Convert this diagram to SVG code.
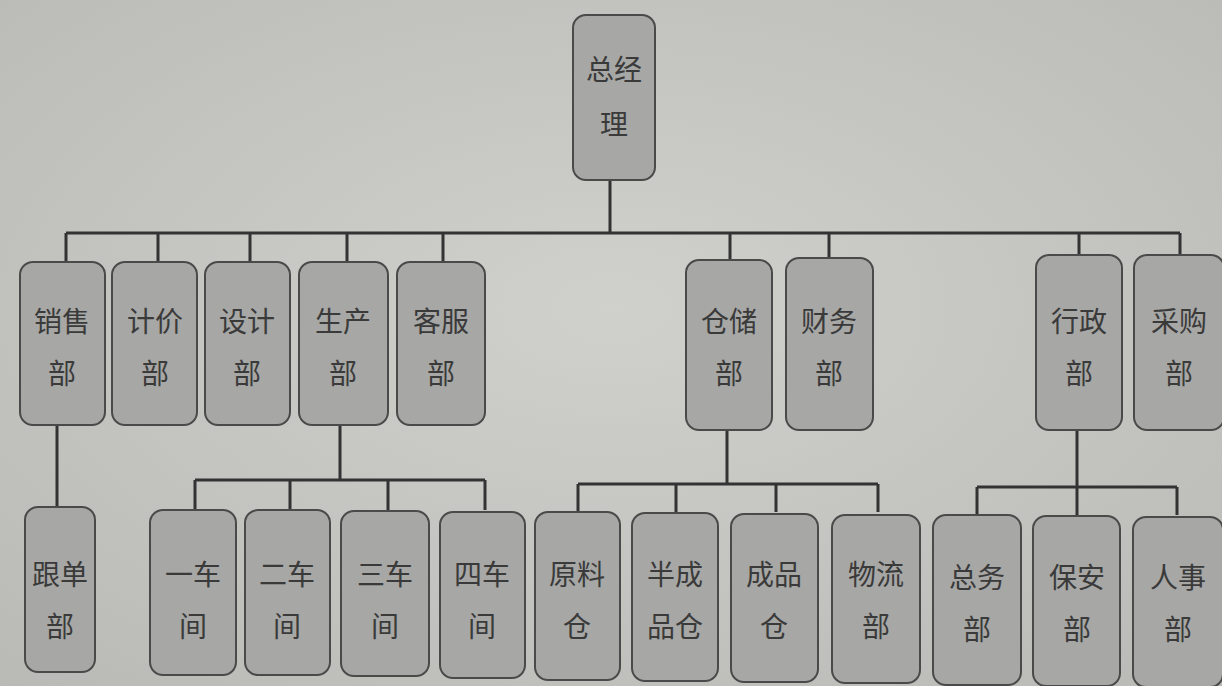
<svg xmlns="http://www.w3.org/2000/svg" width="1222" height="686" viewBox="0 0 1222 686">
<defs>
<radialGradient id="bg" cx="0.5" cy="0.45" r="0.75">
<stop offset="0" stop-color="#d0d0cc"/>
<stop offset="1" stop-color="#b9b9b5"/>
</radialGradient>
<style>
.box{fill:#a7a7a5;stroke:#4a4a4a;stroke-width:2}
.t{font-family:"Noto Sans CJK SC","Noto Sans CJK JP",sans-serif;font-size:28px;fill:#3a3a3a;text-anchor:middle}
.c{fill:none;stroke:#333;stroke-width:3}
</style>
</defs>
<rect width="1222" height="686" fill="url(#bg)"/>
<g id="connectors">
<path class="c" d="M610 180V233M66 233H1180M66 233V262M158 233V262M250 233V262M347 233V262M443 233V262M730 233V260M829 233V258M1079 233V255M1180 233V255"/>
<path class="c" d="M57 425V507"/>
<path class="c" d="M340 425V480M195 480H485M195 480V510M290 480V510M388 480V510M485 480V510"/>
<path class="c" d="M727 430V484M578 484H878M578 484V512M676 484V512M776 484V512M878 484V512"/>
<path class="c" d="M1077 430V515M977 487H1177M977 487V515M1177 487V515"/>
</g>
<g id="n-zongjingli"><rect class="box" x="573" y="15" width="82" height="165" rx="13"/><text class="t" x="614" y="80">总经</text><text class="t" x="614" y="135">理</text></g>
<g id="n-xiaoshou"><rect class="box" x="20" y="262" width="85" height="163" rx="13"/><text class="t" x="62" y="332">销售</text><text class="t" x="62" y="384">部</text></g>
<g id="n-jijia"><rect class="box" x="112" y="262" width="85" height="163" rx="13"/><text class="t" x="155" y="332">计价</text><text class="t" x="155" y="384">部</text></g>
<g id="n-sheji"><rect class="box" x="205" y="262" width="85" height="163" rx="13"/><text class="t" x="247" y="332">设计</text><text class="t" x="247" y="384">部</text></g>
<g id="n-shengchan"><rect class="box" x="299" y="262" width="89" height="163" rx="13"/><text class="t" x="343" y="332">生产</text><text class="t" x="343" y="384">部</text></g>
<g id="n-kefu"><rect class="box" x="397" y="262" width="88" height="163" rx="13"/><text class="t" x="441" y="332">客服</text><text class="t" x="441" y="384">部</text></g>
<g id="n-cangchu"><rect class="box" x="686" y="260" width="86" height="170" rx="13"/><text class="t" x="729" y="332">仓储</text><text class="t" x="729" y="384">部</text></g>
<g id="n-caiwu"><rect class="box" x="786" y="258" width="87" height="172" rx="13"/><text class="t" x="829" y="332">财务</text><text class="t" x="829" y="384">部</text></g>
<g id="n-xingzheng"><rect class="box" x="1036" y="255" width="86" height="175" rx="13"/><text class="t" x="1079" y="332">行政</text><text class="t" x="1079" y="384">部</text></g>
<g id="n-caigou"><rect class="box" x="1134" y="255" width="90" height="175" rx="13"/><text class="t" x="1179" y="332">采购</text><text class="t" x="1179" y="384">部</text></g>
<g id="n-gendan"><rect class="box" x="25" y="507" width="70" height="165" rx="13"/><text class="t" x="60" y="585">跟单</text><text class="t" x="60" y="637">部</text></g>
<g id="n-che1"><rect class="box" x="150" y="510" width="86" height="165" rx="13"/><text class="t" x="193" y="585">一车</text><text class="t" x="193" y="637">间</text></g>
<g id="n-che2"><rect class="box" x="245" y="510" width="85" height="165" rx="13"/><text class="t" x="287" y="585">二车</text><text class="t" x="287" y="637">间</text></g>
<g id="n-che3"><rect class="box" x="341" y="511" width="88" height="165" rx="13"/><text class="t" x="385" y="585">三车</text><text class="t" x="385" y="637">间</text></g>
<g id="n-che4"><rect class="box" x="440" y="512" width="85" height="166" rx="13"/><text class="t" x="482" y="585">四车</text><text class="t" x="482" y="637">间</text></g>
<g id="n-yuanliao"><rect class="box" x="535" y="512" width="85" height="168" rx="13"/><text class="t" x="577" y="585">原料</text><text class="t" x="577" y="637">仓</text></g>
<g id="n-banchengpin"><rect class="box" x="632" y="513" width="86" height="168" rx="13"/><text class="t" x="675" y="585">半成</text><text class="t" x="675" y="637">品仓</text></g>
<g id="n-chengpin"><rect class="box" x="731" y="514" width="87" height="168" rx="13"/><text class="t" x="774" y="585">成品</text><text class="t" x="774" y="637">仓</text></g>
<g id="n-wuliu"><rect class="box" x="832" y="515" width="88" height="168" rx="13"/><text class="t" x="876" y="585">物流</text><text class="t" x="876" y="637">部</text></g>
<g id="n-zongwu"><rect class="box" x="933" y="515" width="88" height="170" rx="13"/><text class="t" x="977" y="588">总务</text><text class="t" x="977" y="640">部</text></g>
<g id="n-baoan"><rect class="box" x="1033" y="516" width="87" height="170" rx="13"/><text class="t" x="1077" y="588">保安</text><text class="t" x="1077" y="640">部</text></g>
<g id="n-renshi"><rect class="box" x="1133" y="517" width="90" height="170" rx="13"/><text class="t" x="1178" y="588">人事</text><text class="t" x="1178" y="640">部</text></g>
</svg>
